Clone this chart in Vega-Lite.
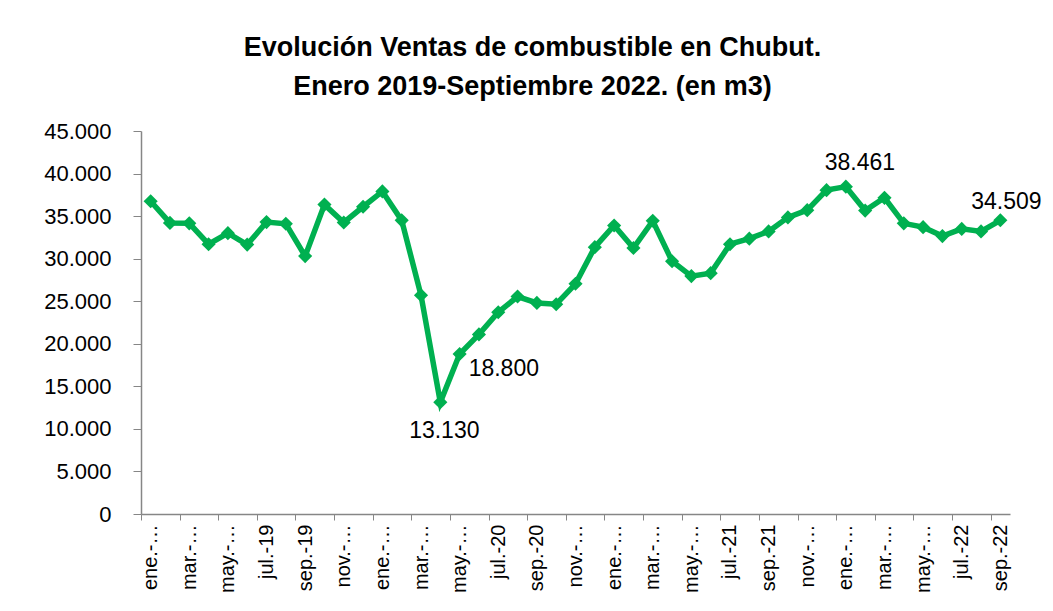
{
  "$schema": "https://vega.github.io/schema/vega-lite/v6.json",
  "width": 869,
  "height": 383,
  "autosize": "none",
  "padding": {"left": 141, "top": 131, "right": 43, "bottom": 97},
  "background": "white",
  "title": {
    "text": ["Evolución Ventas de combustible en Chubut.", "Enero 2019-Septiembre 2022. (en m3)"],
    "font": "Liberation Sans",
    "fontSize": 27,
    "fontWeight": "bold",
    "color": "black",
    "lineHeight": 39,
    "anchor": "middle",
    "frame": "group",
    "dx": -43,
    "offset": 19
  },
  "config": {
    "locale": {"number": {"decimal": ",", "thousands": ".", "grouping": [3], "currency": ["$", ""]}},
    "view": {"stroke": null},
    "font": "Liberation Sans"
  },
  "data": {
    "values": [
      {"mes": "ene.-19", "ventas": 36750},
      {"mes": "feb.-19", "ventas": 34200},
      {"mes": "mar.-19", "ventas": 34150},
      {"mes": "abr.-19", "ventas": 31700},
      {"mes": "may.-19", "ventas": 33000},
      {"mes": "jun.-19", "ventas": 31650},
      {"mes": "jul.-19", "ventas": 34300},
      {"mes": "ago.-19", "ventas": 34100},
      {"mes": "sep.-19", "ventas": 30300},
      {"mes": "oct.-19", "ventas": 36350},
      {"mes": "nov.-19", "ventas": 34250},
      {"mes": "dic.-19", "ventas": 36100},
      {"mes": "ene.-20", "ventas": 37900},
      {"mes": "feb.-20", "ventas": 34500},
      {"mes": "mar.-20", "ventas": 25700},
      {"mes": "abr.-20", "ventas": 13130},
      {"mes": "may.-20", "ventas": 18800},
      {"mes": "jun.-20", "ventas": 21100},
      {"mes": "jul.-20", "ventas": 23700},
      {"mes": "ago.-20", "ventas": 25550},
      {"mes": "sep.-20", "ventas": 24800},
      {"mes": "oct.-20", "ventas": 24650},
      {"mes": "nov.-20", "ventas": 27050},
      {"mes": "dic.-20", "ventas": 31350},
      {"mes": "ene.-21", "ventas": 33900},
      {"mes": "feb.-21", "ventas": 31250},
      {"mes": "mar.-21", "ventas": 34450},
      {"mes": "abr.-21", "ventas": 29700},
      {"mes": "may.-21", "ventas": 27950},
      {"mes": "jun.-21", "ventas": 28300},
      {"mes": "jul.-21", "ventas": 31700},
      {"mes": "ago.-21", "ventas": 32350},
      {"mes": "sep.-21", "ventas": 33200},
      {"mes": "oct.-21", "ventas": 34850},
      {"mes": "nov.-21", "ventas": 35700},
      {"mes": "dic.-21", "ventas": 38050},
      {"mes": "ene.-22", "ventas": 38461},
      {"mes": "feb.-22", "ventas": 35650},
      {"mes": "mar.-22", "ventas": 37150},
      {"mes": "abr.-22", "ventas": 34150},
      {"mes": "may.-22", "ventas": 33700},
      {"mes": "jun.-22", "ventas": 32650},
      {"mes": "jul.-22", "ventas": 33500},
      {"mes": "ago.-22", "ventas": 33200},
      {"mes": "sep.-22", "ventas": 34509}
    ]
  },
  "encoding": {
    "x": {
      "field": "mes",
      "type": "ordinal",
      "sort": null,
      "title": null,
      "axis": {
        "labelAngle": -90,
        "labelFontSize": 20,
        "labelColor": "black",
        "labelPadding": 4,
        "labelExpr": "test(/^(feb|abr|jun|ago|oct|dic)/, datum.value) ? '' : (test(/^(jul|sep)/, datum.value) ? datum.value : slice(datum.value, 0, 5) + '…')",
        "labelOverlap": false,
        "tickOffset": -9.655,
        "labelOffset": 9.655,
        "tickSize": 6,
        "tickColor": "#868686",
        "tickOpacity": {"condition": {"test": "test(/^(feb|abr|jun|ago|oct|dic)/, datum.value)", "value": 0}, "value": 1},
        "domainColor": "#868686",
        "domainWidth": 1.5,
        "grid": false
      }
    },
    "y": {
      "field": "ventas",
      "type": "quantitative",
      "title": null,
      "scale": {"domain": [0, 45000], "nice": false},
      "axis": {
        "values": [0, 5000, 10000, 15000, 20000, 25000, 30000, 35000, 40000, 45000],
        "format": ",d",
        "labelFontSize": 22,
        "labelColor": "black",
        "labelPadding": 22,
        "tickSize": 8,
        "tickColor": "#868686",
        "domainColor": "#868686",
        "domainWidth": 1.5,
        "grid": false
      }
    }
  },
  "layer": [
    {
      "mark": {
        "type": "line",
        "color": "#00B050",
        "strokeWidth": 5.5,
        "point": {"shape": "diamond", "size": 200, "color": "#00B050", "filled": true, "opacity": 1}
      }
    },
    {
      "transform": [{"filter": "datum.mes == 'abr.-20'"}],
      "mark": {"type": "text", "fontSize": 23, "color": "black", "align": "center", "baseline": "middle", "dx": 4, "dy": 29},
      "encoding": {"text": {"field": "ventas", "type": "quantitative", "format": ",d"}}
    },
    {
      "transform": [{"filter": "datum.mes == 'may.-20'"}],
      "mark": {"type": "text", "fontSize": 23, "color": "black", "align": "left", "baseline": "middle", "dx": 9, "dy": 15},
      "encoding": {"text": {"field": "ventas", "type": "quantitative", "format": ",d"}}
    },
    {
      "transform": [{"filter": "datum.mes == 'ene.-22'"}],
      "mark": {"type": "text", "fontSize": 23, "color": "black", "align": "center", "baseline": "middle", "dx": 14, "dy": -24},
      "encoding": {"text": {"field": "ventas", "type": "quantitative", "format": ",d"}}
    },
    {
      "transform": [{"filter": "datum.mes == 'sep.-22'"}],
      "mark": {"type": "text", "fontSize": 23, "color": "black", "align": "center", "baseline": "middle", "dx": 6, "dy": -18},
      "encoding": {"text": {"field": "ventas", "type": "quantitative", "format": ",d"}}
    }
  ]
}
